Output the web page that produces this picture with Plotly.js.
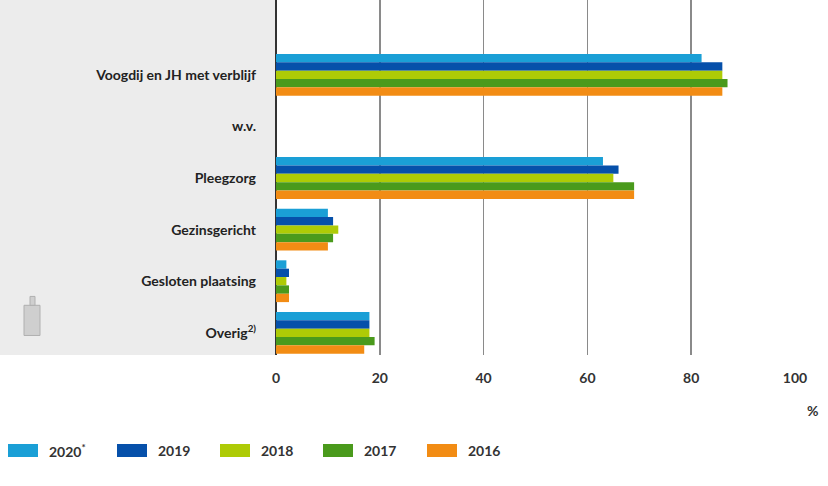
<!DOCTYPE html>
<html>
<head>
<meta charset="utf-8">
<script src="https://cdn.plot.ly/plotly-3.0.1.min.js"></script>
<style>html,body{margin:0;padding:0;background:#fff;}#chart{width:828px;height:486px;}</style>
</head>
<body>
<div id="chart"></div>
<script>
const categories = ["Voogdij en JH met verblijf", "w.v.", "Pleegzorg", "Gezinsgericht", "Gesloten plaatsing", "Overig<sup>2)</sup>"];
const years = ["2020*", "2019", "2018", "2017", "2016"];
const yearLabels = ["2020<sup>*</sup>", "2019", "2018", "2017", "2016"];
const v2020 = [82, null, 63, 10, 2, 18];
const v2019 = [86, null, 66, 11, 2.5, 18];
const v2018 = [86, null, 65, 12, 2, 18];
const v2017 = [87, null, 69, 11, 2.5, 19];
const v2016 = [86, null, 69, 10, 2.5, 17];
const xTicks = [0, 20, 40, 60, 80, 100];
const colors = ["#1a9fd6", "#0650aa", "#aecb06", "#4a9a1c", "#f28c14"];

const series = [v2020, v2019, v2018, v2017, v2016];
const traces = series.map((vals, i) => ({
  type: "bar",
  orientation: "h",
  name: years[i],
  x: vals,
  y: categories,
  marker: {color: colors[i], line: {width: 0}},
  showlegend: false,
  hoverinfo: "x+name"
}));

const W = 828, L = 276, R = 33;
const plotW = W - L - R;
const FONT = {family: "Lato", size: 14, weight: 700, color: "#333"};
const shapes = [
  {type: "rect", xref: "paper", yref: "paper", x0: -L / plotW, x1: 0, y0: 0, y1: 1,
   fillcolor: "#ececec", line: {width: 0}, layer: "below"},
  // CBS logo hint
  {type: "rect", xref: "paper", yref: "paper", x0: -252 / plotW, x1: -236 / plotW, y0: 0.055, y1: 0.14,
   fillcolor: "#cfcfcf", line: {color: "#b0b0b0", width: 1}, layer: "below"},
  {type: "rect", xref: "paper", yref: "paper", x0: -246 / plotW, x1: -241 / plotW, y0: 0.14, y1: 0.165,
   fillcolor: "#cfcfcf", line: {color: "#b0b0b0", width: 1}, layer: "below"}
];
const annotations = [
  {text: "%", xref: "paper", yref: "paper", x: (812 - L) / plotW, y: -55 / 355, xanchor: "center", yanchor: "middle",
   showarrow: false, font: FONT}
];
// legend swatches (paper coords)
const legX = [8, 117, 220, 323, 427];
years.forEach((y, i) => {
  const x0 = (legX[i] - L) / plotW, x1 = (legX[i] + 30 - L) / plotW;
  shapes.push({type: "rect", xref: "paper", yref: "paper", x0: x0, x1: x1,
    y0: -(444 - 355) / 355 - 13 / 355, y1: -(444 - 355) / 355,
    fillcolor: colors[i], line: {width: 0}});
  annotations.push({text: yearLabels[i], xref: "paper", yref: "paper",
    x: (legX[i] + 39 - L) / plotW, y: -(450 - 355) / 355, xanchor: "left", yanchor: "middle",
    showarrow: false, font: FONT});
});

const layout = {
  width: 828, height: 486,
  margin: {l: L, r: R, t: 0, b: 131},
  paper_bgcolor: "#ffffff",
  plot_bgcolor: "#ffffff",
  barmode: "group",
  bargap: 0.19,
  bargroupgap: 0,
  showlegend: false,
  font: {family: "Lato", size: 14, color: "#333"},
  xaxis: {
    range: [0, 100],
    tickvals: xTicks,
    ticktext: xTicks.map(String),
    showgrid: true, gridcolor: "#8a8a8a", gridwidth: 1.5,
    zeroline: true, zerolinecolor: "#333333", zerolinewidth: 2.5,
    showline: false, ticks: "",
    ticklabelstandoff: 13,
    tickfont: FONT,
    fixedrange: true
  },
  yaxis: {
    type: "category",
    range: [5.43, -1.45],
    showgrid: false, zeroline: false, showline: false, ticks: "",
    ticklabelstandoff: 19,
    tickfont: {family: "Lato", size: 14, weight: 700, color: "#222"},
    fixedrange: true
  },
  shapes: shapes,
  annotations: annotations
};

Plotly.newPlot("chart", traces, layout, {displayModeBar: false, staticPlot: true});
</script>
</body>
</html>
